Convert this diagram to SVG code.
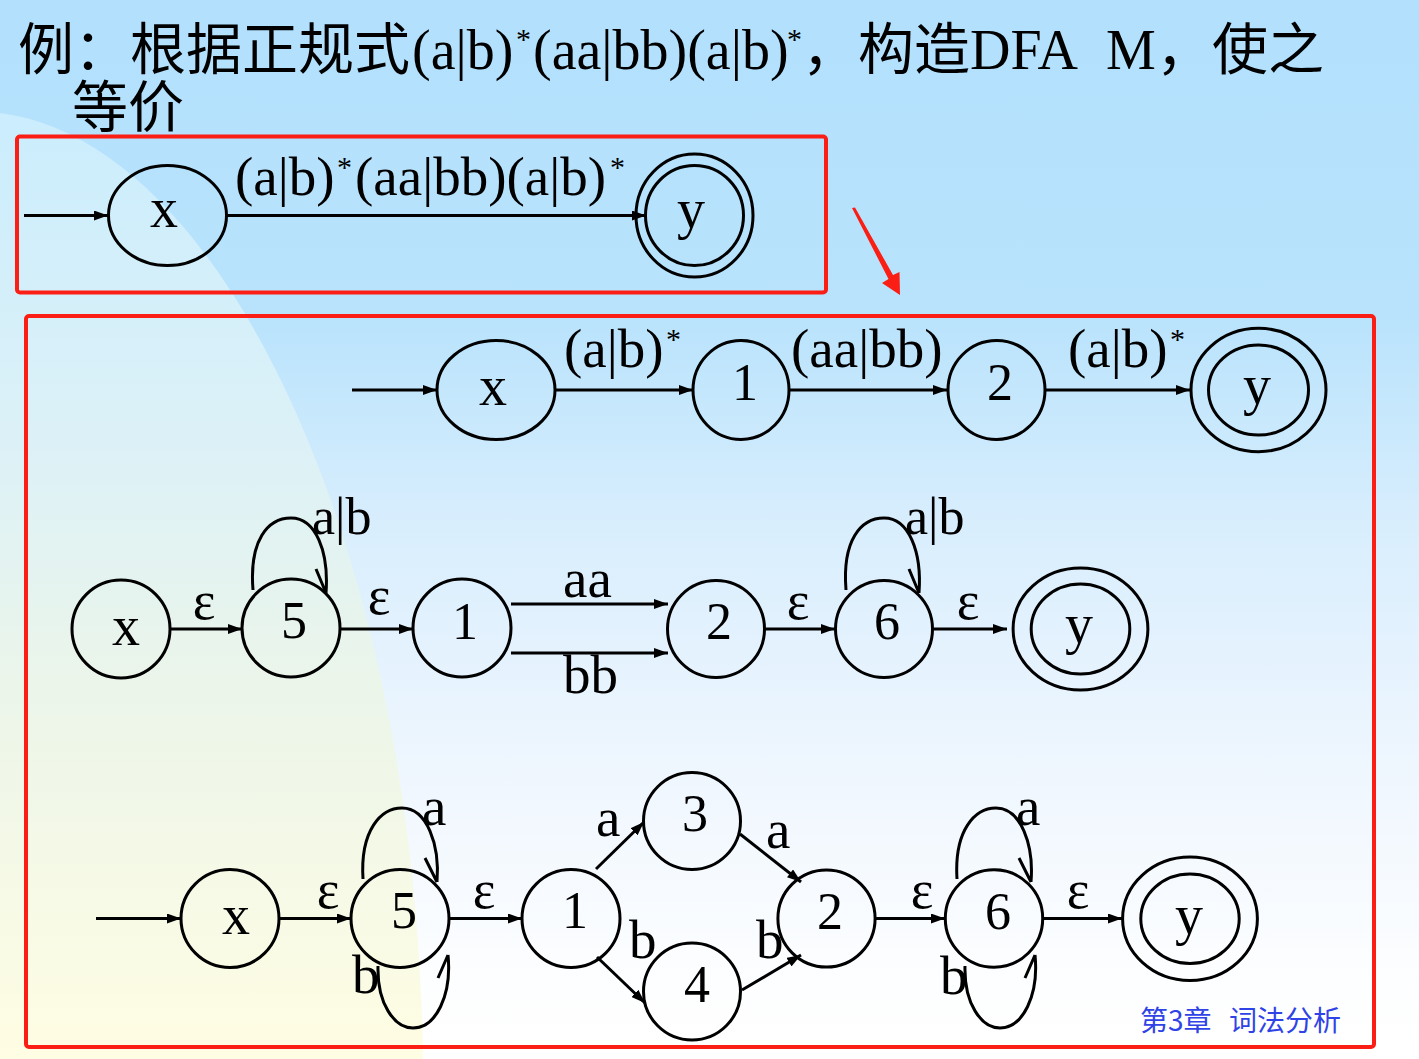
<svg xmlns="http://www.w3.org/2000/svg" width="1419" height="1059" viewBox="0 0 1419 1059">
<defs>
<linearGradient id="bgR" x1="0" y1="0" x2="0" y2="1059" gradientUnits="userSpaceOnUse">
<stop offset="0" stop-color="#b2e0fd"/>
<stop offset="0.3" stop-color="#b9e3fc"/>
<stop offset="0.5" stop-color="#d9eefd"/>
<stop offset="0.72" stop-color="#eef6fe"/>
<stop offset="0.93" stop-color="#fdfeff"/>
<stop offset="1" stop-color="#ffffff"/>
</linearGradient>
<linearGradient id="bgL" x1="0" y1="113" x2="0" y2="1059" gradientUnits="userSpaceOnUse">
<stop offset="0" stop-color="#cbedfd"/>
<stop offset="0.35" stop-color="#dcf1f7"/>
<stop offset="0.6" stop-color="#ebf5ea"/>
<stop offset="1" stop-color="#fffde3"/>
</linearGradient>
<marker id="ah" viewBox="0 0 14 10" refX="14" refY="5" markerWidth="14" markerHeight="10" markerUnits="userSpaceOnUse" orient="auto">
<path d="M0,0 L14,5 L0,10 Z" fill="#000"/>
</marker>
<style>
.st{fill:none;stroke:#000;stroke-width:3}
.ed{fill:none;stroke:#000;stroke-width:3;marker-end:url(#ah)}
.ln{fill:none;stroke:#000;stroke-width:3}
.nl{font-family:"Liberation Serif","Times New Roman",serif;fill:#000;font-size:56px;text-anchor:middle}
.nd{font-family:"Liberation Serif","Times New Roman",serif;fill:#000;font-size:52px;text-anchor:middle}
.el{font-family:"Liberation Serif","Times New Roman",serif;fill:#000;font-size:55px}
.ep{font-family:"Liberation Serif","Times New Roman",serif;fill:#000;font-size:54px;text-anchor:middle}
.sup{font-size:30px}
.ti{font-family:"Liberation Serif","Noto Sans CJK SC",serif;fill:#000;font-size:56px}
.box{fill:none;stroke:#fa1e14;stroke-width:4}
</style>
</defs>

<!-- background -->
<rect x="0" y="0" width="1419" height="1059" fill="url(#bgR)"/>
<path d="M0,113 C220,140 415,540 423,1059 L0,1059 Z" fill="url(#bgL)"/>

<!-- title -->
<g id="title" class="ti">
<text x="18" y="69">例：根据正规式</text>
<text x="412" y="69">(a|b)</text>
<text x="516" y="49" class="sup">*</text>
<text x="533" y="69">(aa|bb)(a|b)</text>
<text x="787" y="49" class="sup">*</text>
<text x="802" y="69">，构造</text>
<text x="970" y="69">DFA</text>
<text x="1106" y="69">M</text>
<text x="1156" y="69">，使之</text>
<text x="72" y="127">等价</text>
</g>

<!-- red frames and arrow -->
<rect class="box" x="17" y="136.5" width="809" height="156" rx="3"/>
<rect class="box" x="26" y="316" width="1348" height="731" rx="3"/>
<polygon points="852,208 855,207.5 893,275 899.5,272 900,295 882,283 888.5,279" fill="#fa1e14"/>

<!-- connectors -->
<g id="connectors">
<line class="ed" x1="24" y1="215.5" x2="108" y2="215.5"/>
<line class="ed" x1="227" y1="215.5" x2="646" y2="215.5"/>
<line class="ed" x1="352" y1="390" x2="437" y2="390"/>
<line class="ed" x1="555" y1="390" x2="693" y2="390"/>
<line class="ed" x1="790" y1="390" x2="947" y2="390"/>
<line class="ed" x1="1045" y1="390" x2="1190" y2="390"/>
<line class="ed" x1="170" y1="629" x2="242" y2="629"/>
<line class="ed" x1="340" y1="629" x2="413" y2="629"/>
<line class="ed" x1="511" y1="604" x2="668" y2="604"/>
<line class="ed" x1="511" y1="653" x2="668" y2="653"/>
<line class="ed" x1="764" y1="629" x2="835" y2="629"/>
<line class="ed" x1="933" y1="629" x2="1007" y2="629"/>
<path class="ln" d="M253,590 C249,540 268,518 291,518 C316,518 329,552 326,593 M316,569 L326,593"/>
<path class="ln" transform="translate(593,0)" d="M253,590 C249,540 268,518 291,518 C316,518 329,552 326,593 M316,569 L326,593"/>
<line class="ed" x1="96" y1="918.5" x2="181" y2="918.5"/>
<line class="ed" x1="279" y1="918.5" x2="351" y2="918.5"/>
<line class="ed" x1="449" y1="918.5" x2="522" y2="918.5"/>
<line class="ed" x1="596" y1="869" x2="644" y2="822"/>
<line class="ed" x1="597" y1="957" x2="645" y2="1003"/>
<line class="ed" x1="740" y1="834" x2="801" y2="882"/>
<line class="ed" x1="742" y1="990" x2="801" y2="955"/>
<line class="ed" x1="875" y1="918.5" x2="945" y2="918.5"/>
<line class="ed" x1="1042" y1="918.5" x2="1122" y2="918.5"/>
<path class="ln" d="M363,879 C360,830 381,808 402,808 C427,808 440,845 437,882 M425,858 L437,882"/>
<path class="ln" d="M378,966 C377,1003 394,1028 413,1028 C436,1028 452,995 448,955 M438,978 L448,955"/>
<path class="ln" transform="translate(594,0)" d="M363,879 C360,830 381,808 402,808 C427,808 440,845 437,882 M425,858 L437,882"/>
<path class="ln" transform="translate(587,0)" d="M378,966 C377,1003 394,1028 413,1028 C436,1028 452,995 448,955 M438,978 L448,955"/>
</g>

<!-- connector labels -->
<g id="labels">
<text class="el" x="235" y="195">(a|b)<tspan class="sup" x="337" y="177">*</tspan><tspan x="355" y="195">(aa|bb)(a|b)</tspan><tspan class="sup" x="610" y="177">*</tspan></text>
<text class="el" x="564" y="367">(a|b)<tspan class="sup" x="666" y="349">*</tspan></text>
<text class="el" x="791" y="367">(aa|bb)</text>
<text class="el" x="1068" y="367">(a|b)<tspan class="sup" x="1170" y="349">*</tspan></text>
<text class="ep" x="204" y="619">ε</text>
<text class="ep" x="379" y="614">ε</text>
<text class="el" x="312" y="534" style="font-size:52px">a|b</text>
<text class="el" x="563" y="597">aa</text>
<text class="el" x="563" y="693">bb</text>
<text class="ep" x="798" y="619">ε</text>
<text class="el" x="905" y="534" style="font-size:52px">a|b</text>
<text class="ep" x="968" y="619">ε</text>
<text class="ep" x="328" y="908">ε</text>
<text class="el" x="422" y="825">a</text>
<text class="el" x="352" y="993">b</text>
<text class="ep" x="484" y="908">ε</text>
<text class="el" x="596" y="836">a</text>
<text class="el" x="629" y="958">b</text>
<text class="el" x="766" y="848">a</text>
<text class="el" x="756" y="958">b</text>
<text class="ep" x="922" y="908">ε</text>
<text class="el" x="1016" y="825">a</text>
<text class="el" x="940" y="994">b</text>
<text class="ep" x="1078" y="908">ε</text>
</g>

<g id="top-x"><ellipse class="st" cx="167.5" cy="215.5" rx="59" ry="50"/><text class="nl" x="164" y="227">x</text></g>
<g id="top-y"><ellipse class="st" cx="694.5" cy="215.5" rx="58.5" ry="61.5"/><ellipse class="st" cx="694.5" cy="215.5" rx="49" ry="50"/><text class="nl" x="691" y="228">y</text></g>

<g id="r1-x"><ellipse class="st" cx="496" cy="390" rx="59" ry="49.5"/><text class="nl" x="493" y="405">x</text></g>
<g id="r1-1"><ellipse class="st" cx="741" cy="390" rx="48" ry="49.5"/><text class="nd" x="745" y="400">1</text></g>
<g id="r1-2"><ellipse class="st" cx="996.5" cy="390" rx="48.5" ry="49.5"/><text class="nd" x="1000" y="400">2</text></g>
<g id="r1-y"><ellipse class="st" cx="1258.5" cy="390" rx="67.5" ry="61.7"/><ellipse class="st" cx="1258.5" cy="390" rx="50" ry="45"/><text class="nl" x="1257" y="404">y</text></g>

<g id="r2-x"><circle class="st" cx="121" cy="629" r="49"/><text class="nl" x="126" y="645">x</text></g>
<g id="r2-5"><circle class="st" cx="291" cy="628" r="49"/><text class="nd" x="294" y="638">5</text></g>
<g id="r2-1"><circle class="st" cx="462" cy="628" r="49"/><text class="nd" x="465" y="639">1</text></g>
<g id="r2-2"><circle class="st" cx="716" cy="629" r="48.5"/><text class="nd" x="719" y="639">2</text></g>
<g id="r2-6"><circle class="st" cx="884" cy="629" r="48.5"/><text class="nd" x="887" y="639">6</text></g>
<g id="r2-y"><ellipse class="st" cx="1080.5" cy="629" rx="67.4" ry="61"/><ellipse class="st" cx="1080.5" cy="629" rx="49.3" ry="45"/><text class="nl" x="1079" y="643">y</text></g>

<g id="r3-x"><circle class="st" cx="230" cy="918.5" r="49"/><text class="nl" x="236" y="934">x</text></g>
<g id="r3-5"><circle class="st" cx="400" cy="918.5" r="49"/><text class="nd" x="404" y="928">5</text></g>
<g id="r3-1"><circle class="st" cx="571" cy="918.5" r="49"/><text class="nd" x="575" y="928">1</text></g>
<g id="r3-3"><circle class="st" cx="692" cy="821" r="48.5"/><text class="nd" x="695" y="831">3</text></g>
<g id="r3-4"><circle class="st" cx="692" cy="991.5" r="48.5"/><text class="nd" x="697" y="1002">4</text></g>
<g id="r3-2"><circle class="st" cx="826.5" cy="918.5" r="48.6"/><text class="nd" x="830" y="929">2</text></g>
<g id="r3-6"><circle class="st" cx="994" cy="918.5" r="48.7"/><text class="nd" x="998" y="929">6</text></g>
<g id="r3-y"><ellipse class="st" cx="1190" cy="918.7" rx="67.4" ry="61.7"/><ellipse class="st" cx="1190" cy="918.7" rx="49.2" ry="44.7"/><text class="nl" x="1189" y="934">y</text></g>

<g id="footer" style="font-family:'Noto Sans CJK SC',sans-serif;font-size:28px;fill:#2f43e6">
<text x="1140" y="1031">第3章</text>
<text x="1229" y="1031">词法分析</text>
</g>
</svg>
